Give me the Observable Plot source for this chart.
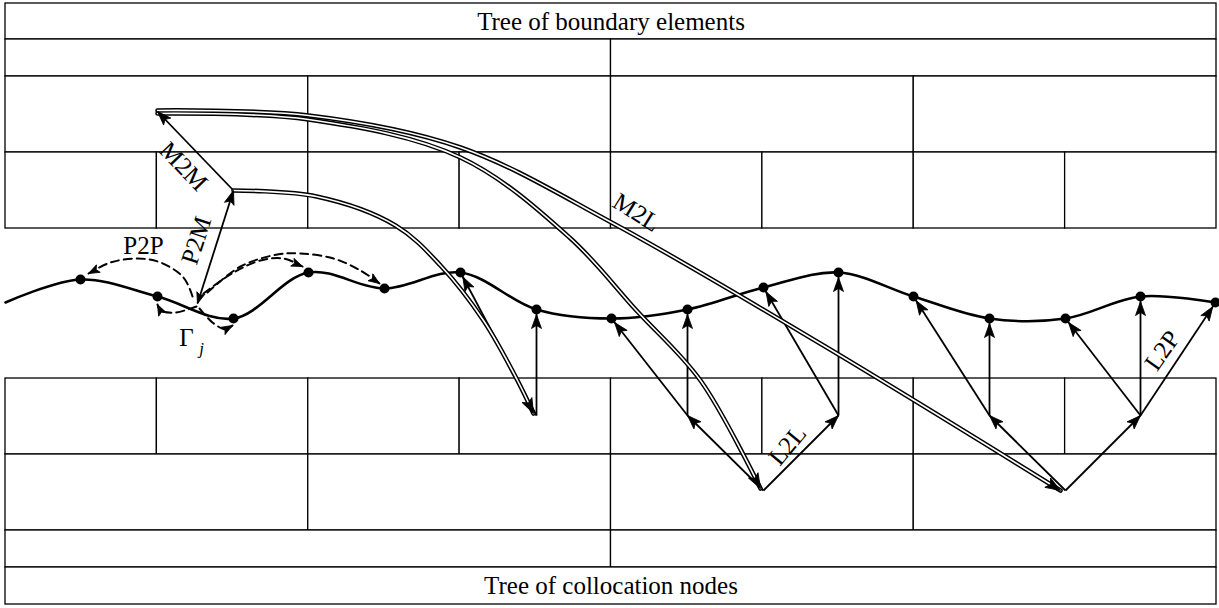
<!DOCTYPE html>
<html><head><meta charset="utf-8">
<script src="https://cdn.jsdelivr.net/npm/d3@7"></script>
<script src="https://cdn.jsdelivr.net/npm/@observablehq/plot@0.6"></script>
<style>body{margin:0;background:#fff} svg{display:block}</style>
</head><body><div id="chart"></div>
<script>
// ---- tree boxes ----
const treeX = [5, 1216];
const topRowY = [3, 39, 76, 152, 228];
const topCells = [1, 2, 4, 8];
const bottomRowY = [378, 454, 530, 567, 604];
const bottomCells = [8, 4, 2, 1];
const treeTitles = ["Tree of boundary elements", "Tree of collocation nodes"];

// ---- boundary curve and collocation nodes ----
const curveStart = [5, 302];
const nodeX = [80, 157, 233, 308, 384, 460, 536, 611, 687, 763, 838, 913, 989, 1065, 1140, 1215];
const nodeY = [279, 296, 318, 272, 288, 272, 309, 318, 309, 287, 272, 296, 318, 318, 296, 302];

// ---- M2M / P2M (element Γj and its multipoles) ----
const gammaPt = [197, 303];
const m1 = [233, 190];
const m2 = [157, 111];

// ---- local expansions ----
const leafX = [536, 687, 838, 989, 1140], leafY = 415;
const parentX = [763, 1065], parentY = 490;
const l2pLeaf = [0, 0, 1, 1, 2, 2, 3, 3, 4, 4, 4];
const l2pNode = [5, 6, 7, 8, 9, 10, 11, 12, 13, 14, 15];
const l2lParent = [0, 0, 1, 1];
const l2lLeaf = [1, 2, 3, 4];

// ---- double-line (M2L-type) curves ----
const dl1X = [233, 316, 395, 440, 483, 517, 533], dl1Y = [190, 196, 225, 265, 320, 380, 413];
const dl2X = [157, 308, 460, 569, 636, 700, 760], dl2Y = [113, 119, 157, 237, 310, 380, 488];
const dl3X = [157, 308, 460, 611, 823, 1060], dl3Y = [110, 115, 147, 222, 345, 490];

// ---- dashed P2P curves ----
const dAX = [192, 183, 160, 137, 110, 88], dAY = [296, 277, 262, 258, 262, 273];
const dBX = [196, 175, 160, 157], dBY = [306, 312, 310, 304];
const dCX = [199, 212, 225, 232], dCY = [308, 322, 329, 325];
const dDX = [203, 233, 260, 283, 302], dDY = [293, 272, 260, 258, 266];
const dEX = [207, 240, 277, 300, 333, 360, 379], dEY = [292, 266, 254, 253, 258, 270, 283];

// ---- labels ----
const labelText = ["M2M", "P2M", "P2P", "M2L", "L2L", "L2P", "Γ"];
const labelX = [183, 196, 143, 636, 787, 1162, 186];
const labelY = [166, 240, 245, 212, 445, 350, 337];
const labelRotate = [46, -72, 0, 32, -50, -55, 0];

// ---------- build tables ----------
function cells(rowY, counts) {
  const out = [];
  counts.forEach((n, r) => {
    for (let k = 0; k < n; k++) {
      out.push({x1: treeX[0] + k * (treeX[1] - treeX[0]) / n, x2: treeX[0] + (k + 1) * (treeX[1] - treeX[0]) / n, y1: rowY[r], y2: rowY[r + 1]});
    }
  });
  return out;
}
const boxes = cells(topRowY, topCells).concat(cells(bottomRowY, bottomCells));
const titles = [
  {t: treeTitles[0], x: (treeX[0] + treeX[1]) / 2, y: (topRowY[0] + topRowY[1]) / 2},
  {t: treeTitles[1], x: (treeX[0] + treeX[1]) / 2, y: (bottomRowY[3] + bottomRowY[4]) / 2}
];
const nodes = nodeX.map((x, i) => ({x, y: nodeY[i]}));
const curve = [{x: curveStart[0], y: curveStart[1]}, ...nodes];

const heads = {solid: [], double: [], dashed: []};
function head(group, x1, y1, x2, y2, inset) {
  const dx = x2 - x1, dy = y2 - y1, l = Math.hypot(dx, dy);
  heads[group].push({x: x2 - dx / l * inset, y: y2 - dy / l * inset, a: Math.atan2(dx, -dy) * 180 / Math.PI});
}

const links = [];
function arrow(x1, y1, x2, y2, inset) {
  links.push({x1, y1, x2, y2});
  head("solid", x1, y1, x2, y2, inset);
}
arrow(m1[0], m1[1], m2[0], m2[1], 0);            // M2M
arrow(gammaPt[0], gammaPt[1], m1[0], m1[1], 0);  // P2M
head("dashed", m1[0], m1[1], gammaPt[0], gammaPt[1], 0);
l2pLeaf.forEach((li, k) => arrow(leafX[li], leafY, nodeX[l2pNode[k]], nodeY[l2pNode[k]], 5));
l2lParent.forEach((pi, k) => arrow(parentX[pi], parentY, leafX[l2lLeaf[k]], leafY, 0));

function pts(X, Y, id) { return X.map((x, i) => ({x, y: Y[i], id})); }
const doubles = [pts(dl1X, dl1Y, 1), pts(dl2X, dl2Y, 2), pts(dl3X, dl3Y, 3)];
doubles.forEach(p => { const n = p.length; head("double", p[n - 2].x, p[n - 2].y, p[n - 1].x, p[n - 1].y, 0); });
const dashed = [pts(dAX, dAY, "A"), pts(dBX, dBY, "B"), pts(dCX, dCY, "C"), pts(dDX, dDY, "D"), pts(dEX, dEY, "E")];
dashed.forEach(p => { const n = p.length; head("dashed", p[n - 2].x, p[n - 2].y, p[n - 1].x, p[n - 1].y, 0); });

const labels = labelText.map((t, i) => ({t, x: labelX[i], y: labelY[i], r: labelRotate[i]}));

// filled "stealth" arrowhead of fixed size, tip at the origin, pointing up
function stealth(L, w) {
  return {
    draw(ctx) {
      ctx.moveTo(0, 0);
      ctx.lineTo(w, L);
      ctx.lineTo(0, L * 0.78);
      ctx.lineTo(-w, L);
      ctx.closePath();
    }
  };
}
const headDots = (data, L, w) => Plot.dot(data, {x: "x", y: "y", rotate: "a", r: 3, symbol: stealth(L, w), fill: "black", stroke: "black", strokeWidth: 0.8});

const font = "Liberation Serif, Times New Roman, serif";
const chart = Plot.plot({
  width: 1219, height: 608,
  marginTop: 0, marginRight: 0, marginBottom: 0, marginLeft: 0,
  x: {domain: [0, 1219], range: [0, 1219], axis: null},
  y: {domain: [0, 608], range: [0, 608], axis: null},
  style: {background: "white"},
  marks: [
    Plot.rect(boxes, {x1: "x1", x2: "x2", y1: "y1", y2: "y2", fill: "white", stroke: "black", strokeWidth: 1.3}),
    Plot.text(titles, {x: "x", y: "y", text: "t", fontSize: 25, fontFamily: font, fill: "black"}),
    Plot.link(links, {x1: "x1", y1: "y1", x2: "x2", y2: "y2", stroke: "black", strokeWidth: 1.8}),
    Plot.line(dashed.flat(), {x: "x", y: "y", z: "id", curve: "catmull-rom", stroke: "black", strokeWidth: 2, strokeDasharray: "8,5"}),
    Plot.line(curve, {x: "x", y: "y", curve: "catmull-rom", stroke: "black", strokeWidth: 2.6}),
    Plot.line(doubles.flat(), {x: "x", y: "y", z: "id", curve: "catmull-rom", stroke: "black", strokeWidth: 4.6}),
    Plot.line(doubles.flat(), {x: "x", y: "y", z: "id", curve: "catmull-rom", stroke: "white", strokeWidth: 1.6}),
    Plot.dot(nodes, {x: "x", y: "y", r: 5, fill: "black"}),
    headDots(heads.solid, 14, 5),
    headDots(heads.double, 15, 5.5),
    headDots(heads.dashed, 11, 4.2),
    Plot.text(labels, {x: "x", y: "y", text: "t", rotate: "r", fontSize: 25, fontFamily: font, fill: "black"}),
    Plot.text([{t: "j", x: 201, y: 348}], {x: "x", y: "y", text: "t", fontSize: 17, fontStyle: "italic", fontFamily: font, fill: "black"})
  ]
});
document.getElementById("chart").appendChild(chart);
</script>
</body></html>
